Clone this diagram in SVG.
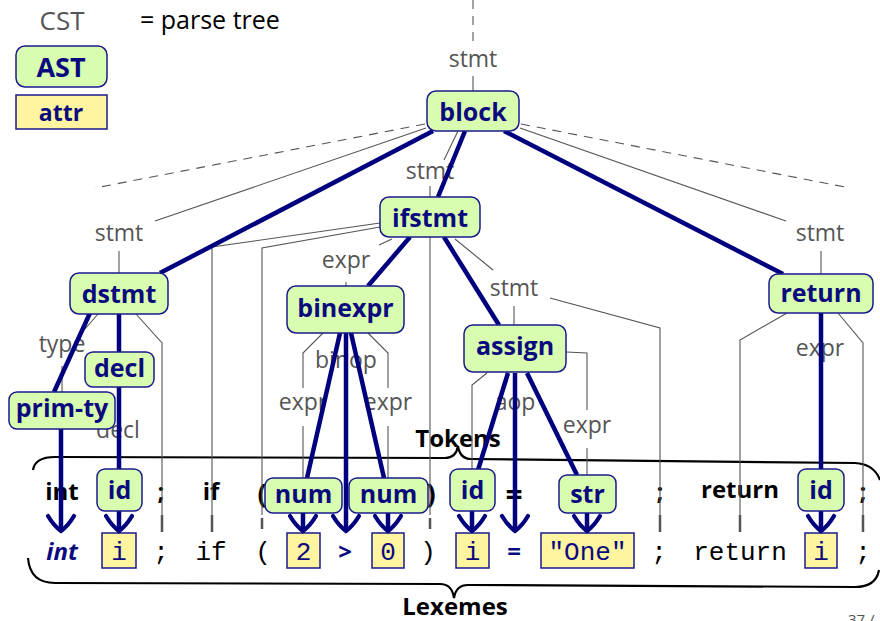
<svg xmlns="http://www.w3.org/2000/svg" width="880" height="621" viewBox="0 0 880 621">
  <style>
    .node rect { fill: #d8fdb0; stroke: #1a1a8c; stroke-width: 1.5; }
    .node text { font: bold 25px "Open Sans", "DejaVu Sans", sans-serif; fill: #0a0a7e; text-anchor: middle; }
    .attr rect { fill: #fff4a0; stroke: #1a1a8c; stroke-width: 1.5; }
    .attr text { font: 26px "Liberation Mono", monospace; fill: #0a0a7e; text-anchor: middle; }
    .lbl { font: 23px "Open Sans", "DejaVu Sans", sans-serif; fill: #555; text-anchor: middle; }
    .cst { stroke: #555; stroke-width: 1.1; fill: none; }
    .dash { stroke: #555; stroke-width: 1.1; fill: none; stroke-dasharray: 9 7; }
    .tick { stroke: #555; stroke-width: 2.5; }
    .ast { stroke: #00007f; stroke-width: 4.5; fill: none; stroke-linecap: butt; }
    .arr { stroke: #00007f; stroke-width: 4.5; fill: none; marker-end: url(#head); }
    .tok { font: bold 24px "Open Sans", "DejaVu Sans", sans-serif; fill: #000; text-anchor: middle; }
    .lex { font: 26px "Liberation Mono", monospace; fill: #000; text-anchor: middle; }
    .brace { stroke: #000; stroke-width: 2.2; fill: none; }
    .title { font: bold 24px "Open Sans", "DejaVu Sans", sans-serif; fill: #000; text-anchor: middle; }
  </style>
  <defs>
    <marker id="head" markerUnits="userSpaceOnUse" orient="auto" refX="0" refY="0" markerWidth="30" markerHeight="34" viewBox="-16 -17 20 34" overflow="visible">
      <path d="M-13,-13 Q-3,-7 2,0 Q-3,7 -13,13" fill="none" stroke="#00007f" stroke-width="4.2" stroke-linecap="round"/>
    </marker>
  </defs>

  <!-- legend -->
  <g id="legend">
    <text x="62" y="30" style="font: 26px 'Open Sans', sans-serif; fill: #555;" text-anchor="middle">CST</text>
    <text x="140" y="29" style="font: 25px 'Open Sans', sans-serif; fill: #000;">= parse tree</text>
    <g class="node"><rect x="16" y="46" width="91" height="41" rx="9"/><text x="61" y="77" style="font-size: 27px;">AST</text></g>
    <g class="attr"><rect x="16" y="95" width="91" height="34"/><text x="61" y="121" style="font: bold 23px 'Open Sans', sans-serif;">attr</text></g>
  </g>

  <!-- CST edge labels -->
  <g id="cst-labels">
    <text class="lbl" x="473" y="67">stmt</text>
    <text class="lbl" x="430" y="179">stmt</text>
    <text class="lbl" x="119" y="241">stmt</text>
    <text class="lbl" x="820" y="241">stmt</text>
    <text class="lbl" x="514" y="296">stmt</text>
    <text class="lbl" x="346" y="268">expr</text>
    <text class="lbl" x="303" y="410">expr</text>
    <text class="lbl" x="388" y="410">expr</text>
    <text class="lbl" x="346" y="368">binop</text>
    <text class="lbl" x="515" y="410">aop</text>
    <text class="lbl" x="587" y="433">expr</text>
    <text class="lbl" x="820" y="356">expr</text>
    <text class="lbl" x="62" y="352">type</text>
    <text class="lbl" x="118" y="438">decl</text>
  </g>

  <!-- token row -->
  <g id="tokens">
    <text class="tok" x="62" y="500">int</text>
    <text class="tok" x="161" y="500">;</text>
    <text class="tok" x="211" y="500">if</text>
    <text class="tok" x="262" y="503" style="font-size: 27px;">(</text>
    <text class="tok" x="431" y="503" style="font-size: 27px;">)</text>
    <text class="tok" x="514" y="505" style="font-size: 30px;">=</text>
    <text class="tok" x="660" y="500">;</text>
    <text class="tok" x="740" y="498">return</text>
    <text class="tok" x="863" y="500">;</text>
  </g>

  <!-- lexeme row -->
  <g id="lexemes">
    <text x="62" y="560" style="font: italic bold 24px 'Open Sans', sans-serif; fill: #0a0a7e;" text-anchor="middle">int</text>
    <text class="lex" x="161" y="560">;</text>
    <text class="lex" x="211" y="560">if</text>
    <text class="lex" x="263" y="560">(</text>
    <text x="345" y="560" style="font: bold 24px 'Open Sans', sans-serif; fill: #0a0a7e;" text-anchor="middle">&gt;</text>
    <text class="lex" x="428" y="560">)</text>
    <text x="514" y="560" style="font: bold 24px 'Open Sans', sans-serif; fill: #0a0a7e;" text-anchor="middle">=</text>
    <text class="lex" x="659" y="560">;</text>
    <text class="lex" x="740" y="560">return</text>
    <text class="lex" x="863" y="560">;</text>
    <g id="lex-i1" class="attr"><rect x="102" y="533" width="34" height="35"/><text x="119" y="560">i</text></g>
    <g id="lex-2" class="attr"><rect x="287" y="533" width="33" height="35"/><text x="303.5" y="560">2</text></g>
    <g id="lex-0" class="attr"><rect x="372" y="533" width="32" height="35"/><text x="388" y="560">0</text></g>
    <g id="lex-i2" class="attr"><rect x="456" y="533" width="33" height="35"/><text x="472.5" y="560">i</text></g>
    <g id="lex-one" class="attr"><rect x="541" y="533" width="93" height="35"/><text x="587.5" y="560">"One"</text></g>
    <g id="lex-i3" class="attr"><rect x="805" y="533" width="32" height="35"/><text x="821" y="560">i</text></g>
  </g>

  <!-- braces -->
  <g id="braces">
    <path class="brace" d="M33,470 Q35,457 55,457 L445,458 Q456,458 458,446 Q460,459 471,459 L855,463 Q874,464 880,480"/>
    <text class="title" x="458" y="447">Tokens</text>
    <path class="brace" d="M28,558 Q30,583 55,583 L440,584 Q452,584 454,598 Q456,585 468,585 L855,587 Q876,587 879,570"/>
    <text class="title" x="455" y="615">Lexemes</text>
  </g>

  <g id="connectors">
    <!-- parse-tree edges -->
    <line class="dash" x1="473" y1="0" x2="473" y2="46"/>
    <line class="cst" x1="473" y1="76" x2="473" y2="91"/>
    <line class="dash" x1="425" y1="124" x2="95" y2="188"/>
    <line class="dash" x1="521" y1="124" x2="850" y2="188"/>
    <line class="cst" x1="426" y1="128" x2="155" y2="221"/>
    <line class="cst" x1="520" y1="128" x2="786" y2="221"/>
    <line class="cst" x1="458" y1="131" x2="444" y2="160"/>
    <line class="cst" x1="430" y1="186" x2="430" y2="197"/>
    <line class="cst" x1="119" y1="251" x2="119" y2="273"/>
    <line class="cst" x1="821" y1="251" x2="821" y2="274"/>

    <line class="cst" x1="98" y1="314" x2="85" y2="329"/>
    <line class="cst" x1="62" y1="366" x2="62" y2="392"/>
    <polyline class="cst" points="136,314 162,343 162,515"/>

    <polyline class="cst" points="380,223 212,247 212,515"/>
    <polyline class="cst" points="380,227 262,248 262,515"/>
    <line class="cst" x1="430" y1="237" x2="430" y2="515"/>
    <line class="cst" x1="392" y1="239" x2="379" y2="245"/>
    <line class="cst" x1="346" y1="282" x2="346" y2="286"/>
    <line class="cst" x1="455" y1="239" x2="493" y2="270"/>
    <line class="cst" x1="514" y1="306" x2="514" y2="325"/>
    <polyline class="cst" points="550,298 660,328 660,515"/>

    <polyline class="cst" points="323,333 303,353 303,388"/>
    <line class="cst" x1="303" y1="426" x2="303" y2="478"/>
    <polyline class="cst" points="368,333 388,353 388,388"/>
    <line class="cst" x1="388" y1="426" x2="388" y2="478"/>

    <polyline class="cst" points="487,373 472,385 472,470"/>
    <polyline class="cst" points="566,352 587,353 587,410"/>
    <line class="cst" x1="587" y1="448" x2="587" y2="475"/>

    <polyline class="cst" points="787,313 740,340 740,515"/>
    <polyline class="cst" points="838,313 863,343 863,515"/>

    <!-- token-to-lexeme edges of the parse tree -->
    <line class="tick" x1="162" y1="515" x2="162" y2="532"/>
    <line class="tick" x1="212" y1="515" x2="212" y2="532"/>
    <line class="tick" x1="262" y1="518" x2="262" y2="529"/>
    <line class="tick" x1="430" y1="518" x2="430" y2="529"/>
    <line class="tick" x1="660" y1="515" x2="660" y2="532"/>
    <line class="tick" x1="740" y1="515" x2="740" y2="532"/>
    <line class="tick" x1="863" y1="515" x2="863" y2="532"/>

    <!-- abstract syntax tree edges -->
    <line class="ast" x1="433" y1="131" x2="160" y2="273"/>
    <line class="ast" x1="465" y1="131" x2="438" y2="197"/>
    <line class="ast" x1="504" y1="131" x2="783" y2="274"/>
    <line class="ast" x1="90" y1="313" x2="54" y2="392"/>
    <line class="ast" x1="119" y1="313" x2="119" y2="352"/>
    <line class="ast" x1="119" y1="387" x2="119" y2="470"/>
    <line class="ast" x1="410" y1="237" x2="368" y2="286"/>
    <line class="ast" x1="444" y1="237" x2="499" y2="325"/>
    <line class="ast" x1="340" y1="333" x2="307" y2="478"/>
    <line class="ast" x1="351" y1="333" x2="384" y2="478"/>
    <line class="ast" x1="508" y1="373" x2="478" y2="470"/>
    <line class="ast" x1="527" y1="373" x2="577" y2="475"/>
    <line class="ast" x1="821" y1="313" x2="821" y2="470"/>

    <!-- attribute arrows -->
    <line class="arr" x1="61" y1="429" x2="61" y2="529"/>
    <line class="arr" x1="119" y1="510" x2="119" y2="529"/>
    <line class="arr" x1="303" y1="513" x2="303" y2="529"/>
    <line class="arr" x1="346" y1="333" x2="346" y2="529"/>
    <line class="arr" x1="388" y1="513" x2="388" y2="529"/>
    <line class="arr" x1="472" y1="510" x2="472" y2="529"/>
    <line class="arr" x1="515" y1="373" x2="515" y2="529"/>
    <line class="arr" x1="587" y1="513" x2="587" y2="529"/>
    <line class="arr" x1="821" y1="510" x2="821" y2="529"/>
  </g>

  <!-- AST nodes -->
  <g id="block" class="node"><rect x="427" y="91" width="92" height="40" rx="9"/><text x="473" y="121">block</text></g>
  <g id="ifstmt" class="node"><rect x="380" y="197" width="100" height="40" rx="9"/><text x="430" y="227">ifstmt</text></g>
  <g id="dstmt" class="node"><rect x="70" y="273" width="98" height="41" rx="9"/><text x="119" y="303">dstmt</text></g>
  <g id="binexpr" class="node"><rect x="287" y="286" width="117" height="47" rx="9"/><text x="345.5" y="317">binexpr</text></g>
  <g id="assign" class="node"><rect x="464" y="325" width="102" height="47" rx="9"/><text x="515" y="355">assign</text></g>
  <g id="return" class="node"><rect x="769" y="274" width="104" height="39" rx="9"/><text x="821" y="302">return</text></g>
  <g id="decl" class="node"><rect x="85" y="352" width="69" height="35" rx="8"/><text x="119.5" y="377">decl</text></g>
  <g id="prim-ty" class="node"><rect x="9" y="392" width="106" height="37" rx="8"/><text x="62" y="417">prim-ty</text></g>
  <g id="id-decl" class="node"><rect x="97" y="469" width="45" height="42" rx="8"/><text x="119.5" y="499">id</text></g>
  <g id="num-left" class="node"><rect x="265" y="478" width="77" height="35" rx="8"/><text x="303.5" y="503">num</text></g>
  <g id="num-right" class="node"><rect x="349" y="478" width="79" height="35" rx="8"/><text x="388.5" y="503">num</text></g>
  <g id="id-assign" class="node"><rect x="450" y="469" width="45" height="42" rx="8"/><text x="472.5" y="499">id</text></g>
  <g id="str" class="node"><rect x="559" y="475" width="57" height="38" rx="8"/><text x="587.5" y="503">str</text></g>
  <g id="id-return" class="node"><rect x="798" y="469" width="46" height="42" rx="8"/><text x="821" y="499">id</text></g>

  <text x="848" y="625" style="font: 15px 'Open Sans', sans-serif; fill: #555;">37 /</text>
</svg>
